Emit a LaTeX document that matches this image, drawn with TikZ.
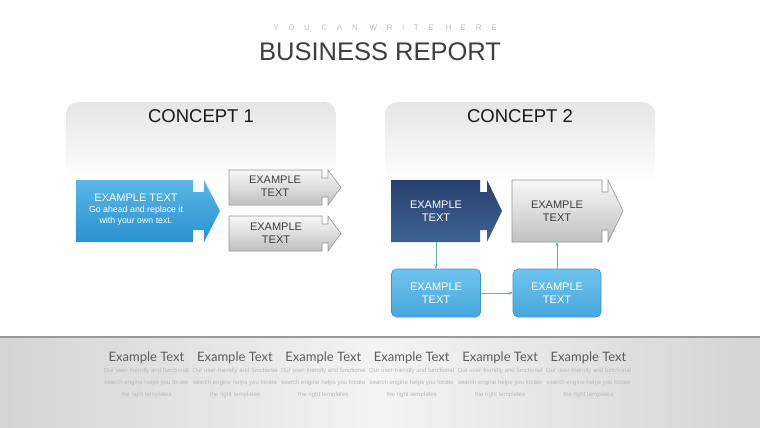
\documentclass[tikz,border=0pt]{standalone}
\usepackage{fontspec}
\setmainfont{Liberation Sans}
\newfontfamily\spacedfont[LetterSpace=120]{Liberation Sans}
\newfontfamily\labelfont{Lato}
\usetikzlibrary{arrows.meta}

\definecolor{bluetop}{RGB}{88,182,232}
\definecolor{bluebot}{RGB}{42,146,208}
\definecolor{navytop}{RGB}{40,64,108}
\definecolor{navybot}{RGB}{62,98,150}
\definecolor{skytop}{RGB}{112,196,238}
\definecolor{skybot}{RGB}{70,166,220}
\definecolor{skyline}{RGB}{58,148,205}
\definecolor{linkblue}{RGB}{95,172,215}
\definecolor{greytop}{RGB}{248,248,248}
\definecolor{greybot}{RGB}{192,192,192}
\definecolor{greyline}{RGB}{150,150,150}
\definecolor{darktext}{RGB}{62,62,62}

% left, top, bottom, tip, notch x, head x, notch depth
\newcommand{\notchshape}[7]{(#1,#2) -- (#5,#2) -- (#5,#2+#7) -- (#6,#2+#7) -- (#6,#2)
  -- (#4,{(#2+#3)/2}) -- (#6,#3) -- (#6,#3-#7) -- (#5,#3-#7) -- (#5,#3) -- (#1,#3) -- cycle}

\tikzset{
  panel/.style={top color=gray!20, bottom color=white, rounded corners=12pt},
  greyarrow/.style={top color=greytop, bottom color=greybot, draw=greyline, line width=0.6pt},
  boxtext/.style={align=center, font=\fontsize{11}{13.5}\selectfont},
  skybox/.style={boxtext, text=white, rounded corners=5pt, top color=skytop, bottom color=skybot,
    draw=skyline, line width=0.6pt, minimum height=48pt},
  link/.style={draw=linkblue, line width=0.8pt, -{Stealth[length=4pt,width=3.5pt]}},
  coltitle/.style={font=\labelfont\fontsize{13}{15}\selectfont, text=gray!72!black},
  coltext/.style={align=center, font=\fontsize{6.1}{11.8}\selectfont, text=gray!55}
}

\begin{document}
\begin{tikzpicture}[x=1pt,y=-1pt]
  \useasboundingbox (0,0) rectangle (760,428);
  \fill[white] (0,0) rectangle (760,428);

  % heading
  \node[font=\spacedfont\fontsize{8}{9}\selectfont, text=gray!50] (kicker) at (385,28) {YOU CAN WRITE HERE};
  \node[font=\fontsize{25.5}{30}\selectfont, text=darktext] (title) at (380,52) {BUSINESS REPORT};

  % the two panels
  \shade[panel] (66,182) -- (66,102) -- (336,102) -- (336,182) -- cycle;
  \shade[panel] (385,182) -- (385,102) -- (655,102) -- (655,182) -- cycle;
  \node[font=\fontsize{18.5}{22}\selectfont, text=black!90] (conceptA) at (201,116) {CONCEPT 1};
  \node[font=\fontsize{18.5}{22}\selectfont, text=black!90] (conceptB) at (520,116) {CONCEPT 2};

  % concept 1
  \shade[top color=bluetop, bottom color=bluebot] \notchshape{76}{180}{242}{220}{193}{204}{12};
  \node[align=center, text=white, font=\fontsize{8.8}{11}\selectfont] (mainA) at (136,210)
    {{\fontsize{11}{13}\selectfont EXAMPLE TEXT}\\Go ahead and replace it\\with your own text.};
  \shadedraw[greyarrow] \notchshape{229}{170}{205}{341}{322}{328}{8};
  \shadedraw[greyarrow] \notchshape{229}{216}{251}{341}{322}{328}{8};
  \node[boxtext, text=darktext] (optA) at (275,186) {EXAMPLE\\TEXT};
  \node[boxtext, text=darktext] (optB) at (276,233) {EXAMPLE\\TEXT};

  % concept 2
  \shade[top color=navytop, bottom color=navybot] \notchshape{391}{180}{242}{502}{480}{487}{12};
  \shadedraw[greyarrow] \notchshape{512}{180}{242}{623}{602}{608}{12};
  \node[boxtext, text=white, minimum height=62pt] (stepA) at (436,211) {EXAMPLE\\TEXT};
  \node[boxtext, text=darktext, minimum height=62pt] (stepD) at (557,211) {EXAMPLE\\TEXT};
  \node[skybox, minimum width=89pt] (stepB) at (436,293) {EXAMPLE\\TEXT};
  \node[skybox, minimum width=88pt] (stepC) at (557,293) {EXAMPLE\\TEXT};
  \draw[link] (stepA.south) -- (stepB.north);
  \draw[link] (stepB.east) -- (stepC.west);
  \draw[link] (stepC.north) -- (stepD.south);

  % footer band
  \shade[left color=gray!34, right color=gray!34, middle color=gray!9] (0,338) rectangle (760,428);
  \draw[gray!80, line width=1.2pt] (0,337) -- (760,337);
  \foreach \i in {0,...,5}{
    \node[coltitle] (head\i) at ({146.5+88.4*\i},358) {Example Text};
    \node[coltext] (desc\i) at ({146.5+88.4*\i},383)
      {Our user-friendly and functional\\search engine helps you locate\\the right templates};
  }
\end{tikzpicture}
\end{document}
